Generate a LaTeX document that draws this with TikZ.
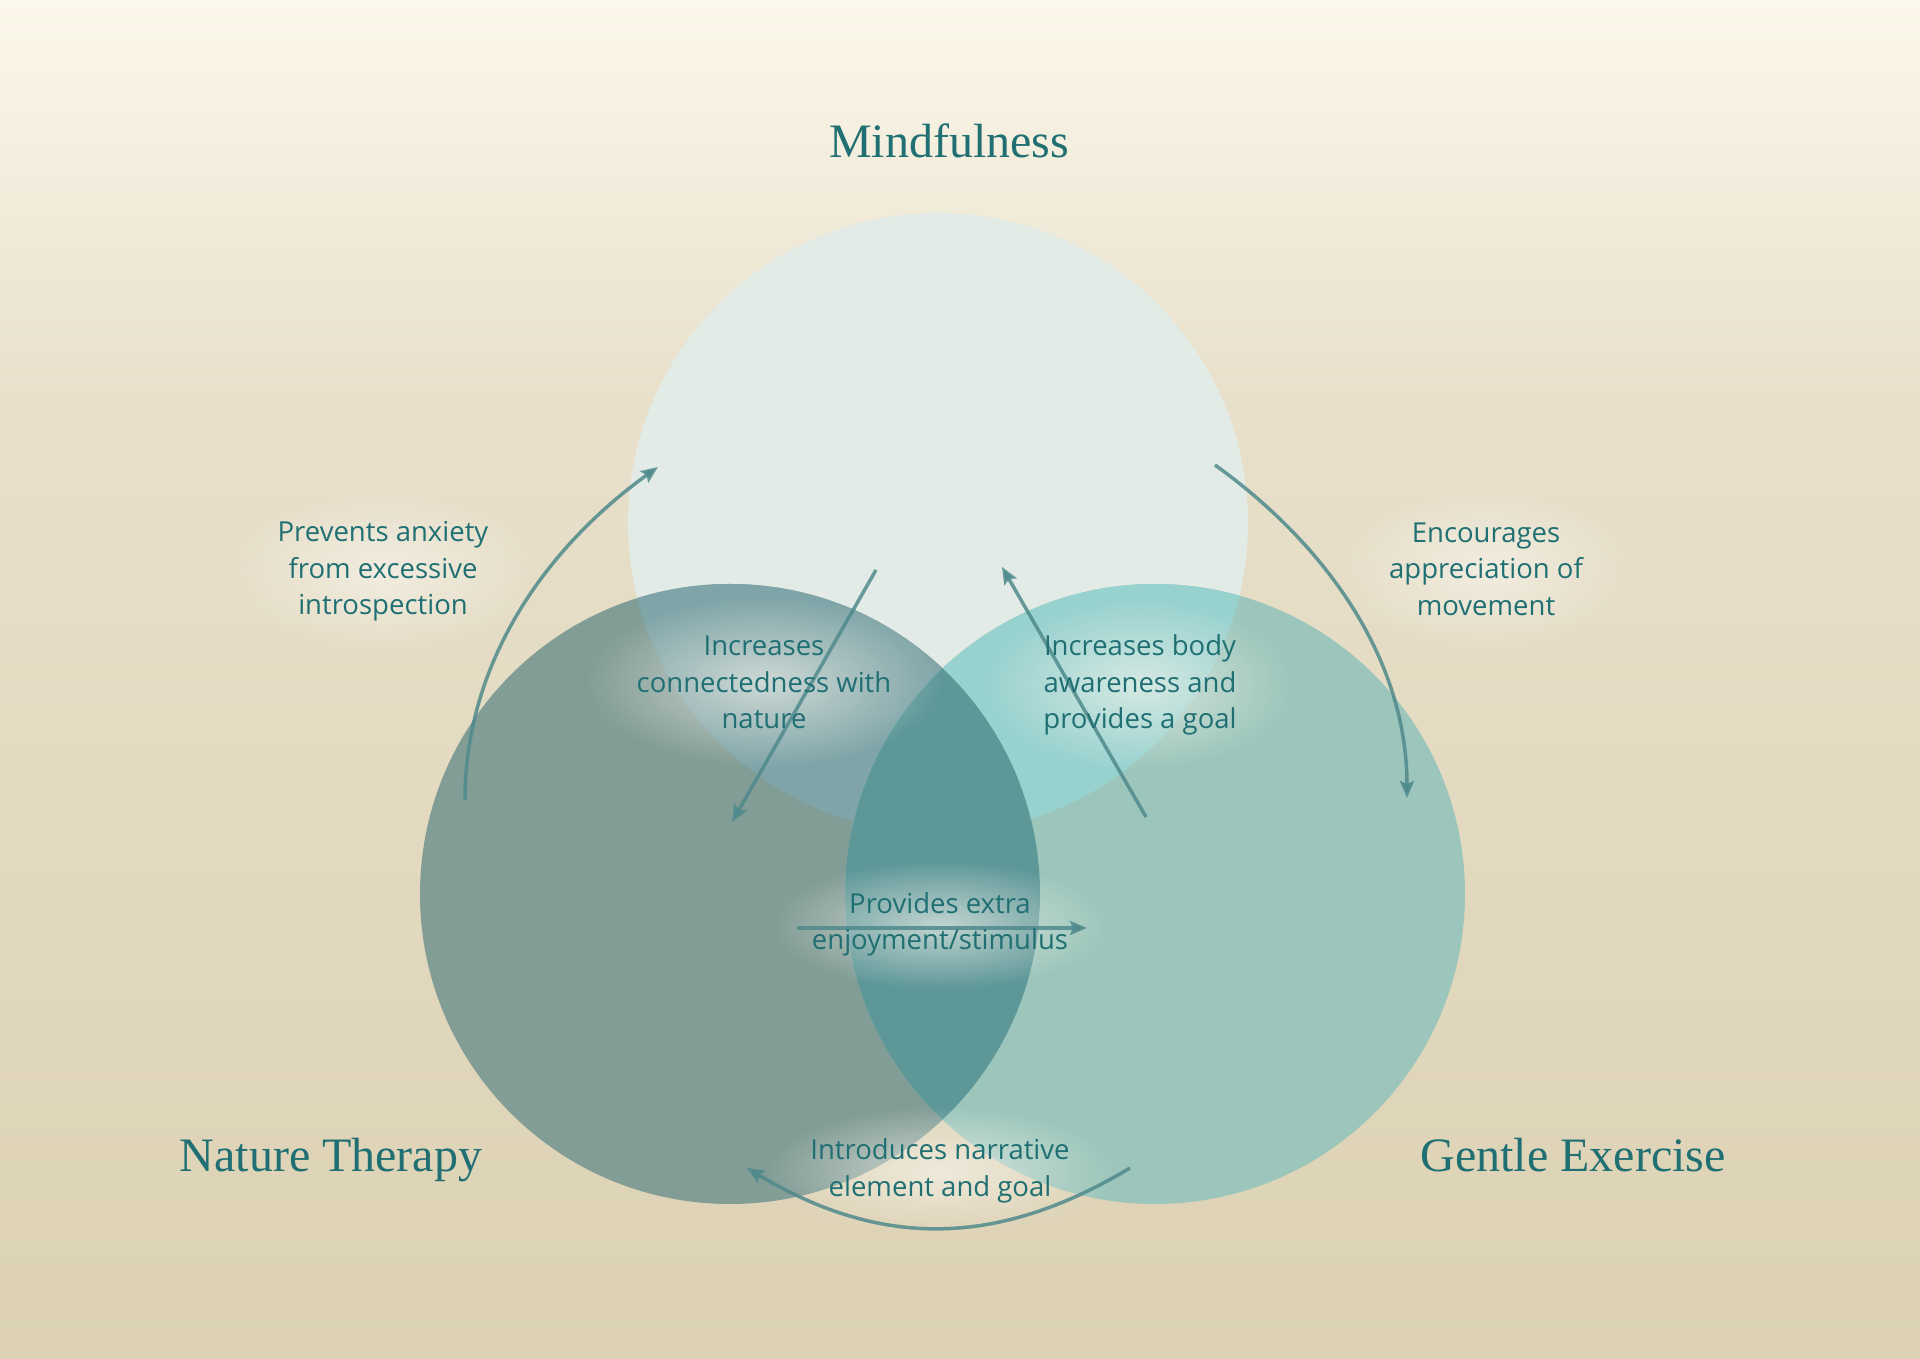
\documentclass[tikz,border=0pt]{standalone}
\usepackage{fontspec}
\setmainfont{Liberation Serif}
\newfontfamily\lblfont{Open Sans}
\usetikzlibrary{arrows.meta,fadings}

\definecolor{bgtop}{HTML}{FBF7EA}
\definecolor{bgmid}{HTML}{E8E0CB}
\definecolor{bgbot}{HTML}{DCD1B3}
\definecolor{mindc}{HTML}{E2EBE6}
\definecolor{naturec}{HTML}{829C96}
\definecolor{gentlec}{HTML}{9CC6BB}
\definecolor{mnc}{HTML}{80A5A8}
\definecolor{mgc}{HTML}{98D2CF}
\definecolor{ngc}{HTML}{5D9798}
\definecolor{ink}{HTML}{1F6F73}
\definecolor{arrowc}{HTML}{4F8A8C}
\definecolor{glowc}{HTML}{F7F5EE}

\tikzfading[name=glowfade, inner color=transparent!35, outer color=transparent!100]

\tikzset{
  heading/.style={text=ink, anchor=base, font=\fontsize{48}{56}\selectfont},
  lbl/.style={text=ink, align=center, inner sep=0pt, font=\lblfont\fontsize{27.5}{36.5}\selectfont},
  link/.style={line width=3.5pt, draw=arrowc, draw opacity=0.85,
    -{Stealth[length=17pt,width=14pt,inset=3pt]}},
  glow/.style={fill=glowc, path fading=glowfade}
}

\begin{document}
\begin{tikzpicture}[x=1pt,y=1pt]
  \useasboundingbox (0,0) rectangle (1920,1358);
  \fill[bgbot] (0,0) rectangle (1920,1358);
  \shade[top color=bgtop, bottom color=bgmid] (0,958) rectangle (1920,1358);
  \shade[top color=bgmid, bottom color=bgbot] (0,0) rectangle (1920,958.5);

  \coordinate (cm) at (938,835);
  \coordinate (cn) at (730,464);
  \coordinate (cg) at (1155,464);

  \fill[mindc] (cm) circle (310);
  \fill[naturec] (cn) circle (310);
  \fill[gentlec] (cg) circle (310);
  \begin{scope}
    \clip (cm) circle (310);
    \fill[mnc] (cn) circle (310);
    \fill[mgc] (cg) circle (310);
  \end{scope}
  \begin{scope}
    \clip (cn) circle (310);
    \fill[ngc] (cg) circle (310);
  \end{scope}

  \node[heading] (mind) at (949,1200) {Mindfulness};
  \node[heading] (nature) at (331,186) {Nature Therapy};
  \node[heading] (gentle) at (1573,186) {Gentle Exercise};

  \fill[glow] (383,787) ellipse (165 and 85);
  \fill[glow] (1486,789) ellipse (155 and 85);
  \fill[glow] (764,676) ellipse (180 and 85);
  \fill[glow] (1140,673) ellipse (155 and 85);
  \fill[glow] (940,433) ellipse (170 and 65);
  \fill[glow] (940,187) ellipse (175 and 65);

  \coordinate (l1a) at (465,558);  \coordinate (l1b) at (658,891);
  \coordinate (l2a) at (1215,893); \coordinate (l2b) at (1407,560);
  \coordinate (l3a) at (876,788);  \coordinate (l3b) at (732,536);
  \coordinate (l4a) at (1146,541); \coordinate (l4b) at (1002,791);
  \coordinate (l5a) at (797,430);  \coordinate (l5b) at (1087,430);
  \coordinate (l6a) at (1130,190); \coordinate (l6b) at (747,190);

  \draw[link] (l1a) .. controls +(0,140) and +(-110,-79) .. (l1b);
  \draw[link] (l2a) .. controls +(110,-79) and +(0,140) .. (l2b);
  \draw[link] (l3a) -- (l3b);
  \draw[link] (l4a) -- (l4b);
  \draw[link] (l5a) -- (l5b);
  \draw[link] (l6a) .. controls +(-133,-80) and +(133,-80) .. (l6b);

  \node[lbl] (prevent) at (383,786.5) {Prevents anxiety\\from excessive\\introspection};
  \node[lbl] (encourage) at (1486,789) {Encourages\\appreciation of\\movement};
  \node[lbl] (connect) at (764,675.5) {Increases\\connectedness with\\nature};
  \node[lbl] (body) at (1140,673) {Increases body\\awareness and\\provides a goal};
  \node[lbl] (extra) at (940,433.5) {Provides extra\\enjoyment/stimulus};
  \node[lbl] (story) at (940,187) {Introduces narrative\\element and goal};
\end{tikzpicture}
\end{document}
